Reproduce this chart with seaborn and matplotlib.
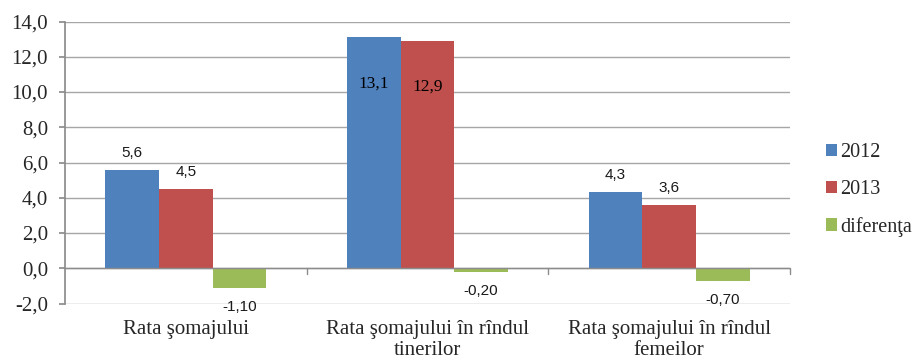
import matplotlib
matplotlib.use("Agg")
import matplotlib.pyplot as plt
import seaborn as sns
import pandas as pd
from matplotlib.patches import Patch

categories = ["Rata şomajului", "Rata şomajului în rîndul\ntinerilor", "Rata şomajului în rîndul\nfemeilor"]
series = ["2012", "2013", "diferenţa"]
values_2012 = [5.6, 13.1, 4.3]
values_2013 = [4.5, 12.9, 3.6]
values_diff = [-1.10, -0.20, -0.70]
label_fmt = ["{:.1f}", "{:.1f}", "{:.2f}"]
colors = ["#4F81BD", "#C0504D", "#9BBB59"]
yticks = [-2, 0, 2, 4, 6, 8, 10, 12, 14]

sns.set_theme(style="white")
plt.rcParams["font.family"] = ["Liberation Serif", "DejaVu Serif"]

df = pd.DataFrame({
    "cat": categories * 3,
    "serie": [s for s in series for _ in categories],
    "val": values_2012 + values_2013 + values_diff,
})

fig = plt.figure(figsize=(9.2, 3.6), dpi=100)
# zona de desen: x 65..790 px, y 21.5..303.5 px
ax = fig.add_axes([65 / 920, 1 - 303.5 / 360, (790 - 65) / 920, (303.5 - 21.5) / 360])

sns.barplot(data=df, x="cat", y="val", hue="serie", order=categories, hue_order=series,
            palette=colors, width=0.666, gap=0, saturation=1, ax=ax, legend=False,
            edgecolor="none", linewidth=0)

ax.set_ylim(-2, 14)
ax.set_xlim(-0.5, 2.5)
ax.set_yticks(yticks)
ax.set_yticklabels([f"{t:.1f}".replace(".", ",") for t in yticks], fontsize=15)
ax.set_xlabel("")
ax.set_ylabel("")
ax.set_xticks(range(len(categories)))
ax.set_xticklabels(categories, fontsize=15, linespacing=1.12)
ax.tick_params(axis="x", length=0, pad=12)
ax.tick_params(axis="y", length=4.3, color="#8C8C8C", pad=8, left=True)

for t in yticks:
    ax.axhline(t, color="#A6A6A6", lw=1, zorder=0)
ax.axhline(0, color="#8C8C8C", lw=1, zorder=3)
for b in [0.5, 1.5, 2.5]:
    ax.plot([b, b], [0, -0.34], color="#8C8C8C", lw=1, zorder=3, clip_on=False)

for s in ["top", "right", "bottom"]:
    ax.spines[s].set_visible(False)
ax.spines["left"].set_color("#8C8C8C")

# etichete de date
for cont, fmt in zip(ax.containers, label_fmt):
    for bar in cont:
        v = bar.get_height()
        x = bar.get_x() + bar.get_width() / 2
        txt = fmt.format(v).replace(".", ",")
        if v > 12:
            ax.annotate(txt, (x, v), xytext=(0, -46), textcoords="offset pixels",
                        ha="center", va="center", fontsize=12.5, color="black")
        else:
            off = 17 if v >= 0 else -19
            ax.annotate(txt, (x, v), xytext=(0, off), textcoords="offset pixels",
                        ha="center", va="center", fontsize=11, color="#1A1A1A",
                        family=["Liberation Sans", "DejaVu Sans"])

handles = [Patch(facecolor=c, edgecolor="none") for c in colors]
fig.legend(handles, series, loc="center left", bbox_to_anchor=(826 / 920, 1 - 190 / 360),
           frameon=False, fontsize=14.5, handlelength=0.55, handleheight=0.55,
           handletextpad=0.15, labelspacing=0.88, borderpad=0, borderaxespad=0)

fig.savefig("out.png", dpi=100)
